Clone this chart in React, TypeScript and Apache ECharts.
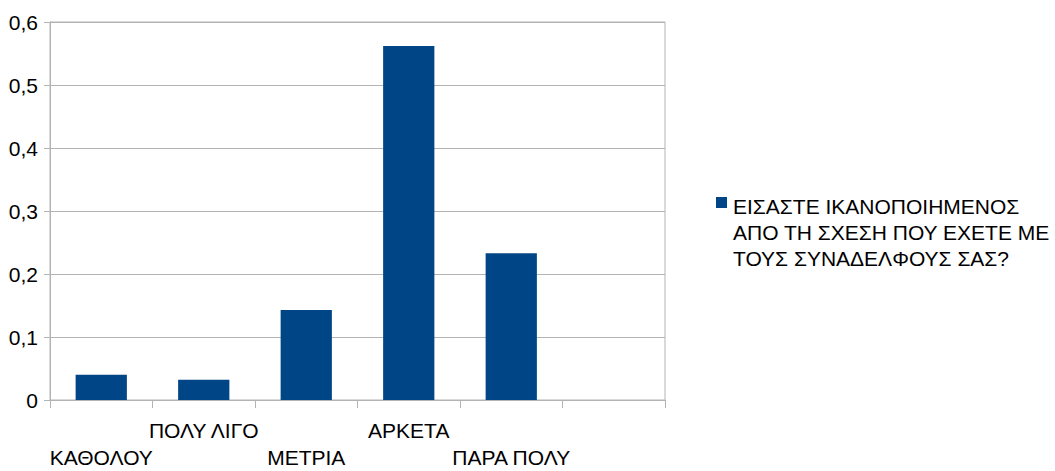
import React, { useEffect, useRef } from "react";
import * as echarts from "echarts";

// Survey answers and their shares
const categories = ["ΚΑΘΟΛΟΥ", "ΠΟΛΥ ΛΙΓΟ", "ΜΕΤΡΙΑ", "ΑΡΚΕΤΑ", "ΠΑΡΑ ΠΟΛΥ", ""];
const shares: (number | null)[] = [0.04, 0.032, 0.143, 0.562, 0.233, null];
const seriesName = "ΕΙΣΑΣΤΕ ΙΚΑΝΟΠΟΙΗΜΕΝΟΣ\nΑΠΟ ΤΗ ΣΧΕΣΗ ΠΟΥ ΕΧΕΤΕ ΜΕ\nΤΟΥΣ ΣΥΝΑΔΕΛΦΟΥΣ ΣΑΣ?";

const BAR_COLOR = "#004586";
const LINE_COLOR = "#b3b3b3";
const FONT = "'Liberation Sans', Arial, sans-serif";
const FONT_SIZE = 21;

export default function App() {
  const ref = useRef<HTMLDivElement>(null);

  useEffect(() => {
    document.body.style.margin = "0";
    const chart = echarts.init(ref.current!, undefined, { renderer: "svg" });
    chart.setOption({
      animation: false,
      backgroundColor: "#ffffff",
      textStyle: { fontFamily: FONT },
      grid: {
        left: 50,
        top: 22,
        right: 390,
        bottom: 65,
        show: true,
        borderColor: LINE_COLOR,
        borderWidth: 1,
        containLabel: false,
      },
      xAxis: {
        type: "category",
        data: categories,
        boundaryGap: true,
        axisLine: { show: true, lineStyle: { color: LINE_COLOR, width: 1 } },
        axisTick: {
          show: true,
          alignWithLabel: false,
          length: 8,
          lineStyle: { color: LINE_COLOR },
        },
        axisLabel: {
          interval: 0,
          margin: 17,
          color: "#000000",
          fontSize: FONT_SIZE,
          fontFamily: FONT,
          lineHeight: 27,
          formatter: (v: string, i: number) => (i % 2 === 0 ? "\n" + v : v),
        },
        splitLine: { show: false },
      },
      yAxis: {
        type: "value",
        min: 0,
        max: 0.6,
        interval: 0.1,
        axisLine: { show: true, lineStyle: { color: LINE_COLOR, width: 1 } },
        axisTick: { show: true, length: 6, lineStyle: { color: LINE_COLOR } },
        axisLabel: {
          margin: 12,
          color: "#000000",
          fontSize: FONT_SIZE,
          fontFamily: FONT,
          formatter: (v: number) => (v === 0 ? "0" : v.toFixed(1).replace(".", ",")),
        },
        splitLine: { show: true, lineStyle: { color: LINE_COLOR, width: 1 } },
      },
      series: [
        {
          name: seriesName,
          type: "bar",
          data: shares,
          barWidth: "50%",
          itemStyle: { color: BAR_COLOR },
        },
      ],
      graphic: [
        {
          type: "rect",
          shape: { x: 716, y: 197, width: 11, height: 11 },
          style: { fill: BAR_COLOR },
        },
        {
          type: "text",
          x: 733,
          y: 193,
          style: {
            text: seriesName,
            fill: "#000000",
            font: `${FONT_SIZE}px ${FONT}`,
            lineHeight: 26,
            textVerticalAlign: "top",
          },
        },
      ],
    });
    return () => chart.dispose();
  }, []);

  return <div ref={ref} style={{ width: 1055, height: 471 }} />;
}
